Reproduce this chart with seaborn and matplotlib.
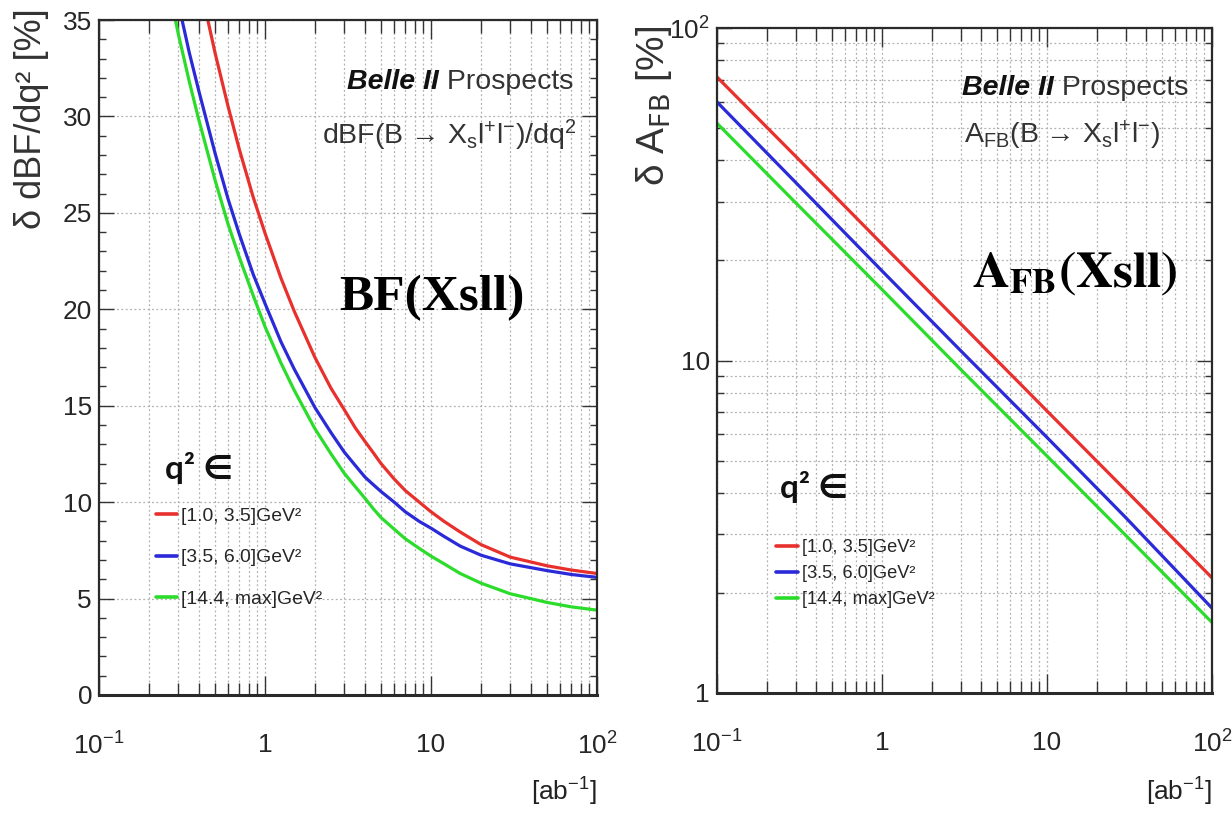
import matplotlib
matplotlib.use("Agg")
import matplotlib.pyplot as plt
import seaborn as sns
import pandas as pd
from matplotlib.lines import Line2D
from matplotlib.ticker import FixedLocator, FixedFormatter, LogLocator, MultipleLocator, NullFormatter
from matplotlib import font_manager

# ---------------- data ----------------
bins = ["[1.0, 3.5]GeV²", "[3.5, 6.0]GeV²", "[14.4, max]GeV²"]
colors = ["#e8302c", "#2a2ad8", "#2bdc2b"]

lumi_bf = [0.2, 0.25, 0.3, 0.35, 0.4, 0.5, 0.6, 0.7, 0.85, 1, 1.25, 1.5, 2, 2.5, 3, 3.5, 4, 4.5, 5, 6, 7,
           8.5, 10, 12, 15, 20, 30, 50, 70, 100]
bf_red = [52.2, 46.8, 42.7, 39.6, 37.1, 33.3, 30.5, 28.3, 25.8, 23.95, 21.6, 19.9, 17.5, 15.9, 14.8, 13.85,
          13.15, 12.55, 12.0, 11.2, 10.6, 10.0, 9.5, 9.0, 8.45, 7.8, 7.15, 6.7, 6.48, 6.3]
bf_blue = [43.8, 39.3, 35.9, 33.3, 31.3, 28.1, 25.7, 23.9, 21.8, 20.3, 18.3, 16.9, 14.9, 13.6, 12.6, 11.9,
           11.3, 10.9, 10.55, 10.0, 9.5, 9.0, 8.65, 8.22, 7.72, 7.25, 6.8, 6.45, 6.25, 6.1]
bf_green = [42.0, 37.6, 34.3, 31.8, 29.8, 26.7, 24.4, 22.7, 20.7, 19.1, 17.2, 15.8, 13.8, 12.5, 11.5, 10.8,
            10.2, 9.65, 9.2, 8.6, 8.1, 7.6, 7.2, 6.8, 6.3, 5.8, 5.25, 4.8, 4.57, 4.4]

lumi_afb = [0.1, 0.3, 1, 3, 10, 30, 100]
afb_red = [71.2, 41.1, 22.4, 12.9, 7.05, 4.07, 2.22]
afb_blue = [59.9, 34.3, 18.6, 10.7, 5.87, 3.37, 1.80]
afb_green = [51.7, 29.8, 16.35, 9.4, 5.16, 2.98, 1.63]

xticks = [0.1, 1, 10, 100]
xticklabels = ["$10^{-1}$", "1", "10", "$10^{2}$"]

# ---------------- style ----------------
sns.set_style("ticks")
names = {f.name for f in font_manager.fontManager.ttflist}
NARROW = "Liberation Sans Narrow" in names
SANS = "Liberation Sans Narrow" if NARROW else "Liberation Sans"
k = 1.0 if NARROW else 0.82
plt.rcParams["font.family"] = [SANS, "DejaVu Sans"]
plt.rcParams["mathtext.fontset"] = "custom"
plt.rcParams["mathtext.rm"] = SANS
plt.rcParams["mathtext.it"] = SANS + ":italic"
plt.rcParams["mathtext.bf"] = SANS + ":bold"

W, H = 1232, 816
fig = plt.figure(figsize=(W / 100, H / 100), dpi=100)


def fx(x):
    return x / W


def fy(y):
    return 1 - y / H


ax1 = fig.add_axes([fx(99), fy(695), (597 - 99) / W, (695 - 20) / H])
ax2 = fig.add_axes([fx(717), fy(693), (1212 - 717) / W, (693 - 28) / H])

df_bf = pd.concat([
    pd.DataFrame({"lumi": lumi_bf, "err": v, "bin": b})
    for v, b in zip([bf_red, bf_blue, bf_green], bins)
])
df_afb = pd.concat([
    pd.DataFrame({"lumi": lumi_afb, "err": v, "bin": b})
    for v, b in zip([afb_red, afb_blue, afb_green], bins)
])
pal = dict(zip(bins, colors))

sns.lineplot(data=df_bf, x="lumi", y="err", hue="bin", palette=pal, ax=ax1,
             linewidth=2.3, legend=False, estimator=None, sort=True)
sns.lineplot(data=df_afb, x="lumi", y="err", hue="bin", palette=pal, ax=ax2,
             linewidth=2.3, legend=False, estimator=None, sort=True)

grid_kw = dict(color="#b0b0b0", linestyle=(0, (1.5, 2.0)), linewidth=0.9)
tick_fs = 23 * k

for ax in (ax1, ax2):
    ax.set_xscale("log")
    ax.set_xlim(0.1, 100)
    ax.xaxis.set_major_locator(FixedLocator(xticks))
    ax.xaxis.set_major_formatter(FixedFormatter(xticklabels))
    ax.xaxis.set_minor_locator(LogLocator(base=10, subs=[2, 3, 4, 5, 6, 7, 8, 9]))
    ax.xaxis.set_minor_formatter(NullFormatter())
    ax.set_xlabel("")
    ax.set_ylabel("")
    for s in ax.spines.values():
        s.set_visible(True)
        s.set_linewidth(1.6)
        s.set_color("#2a2a2a")
    ax.spines["bottom"].set_linewidth(2.2)
    ax.tick_params(axis="both", which="both", direction="in", top=True, right=True,
                   color="#333333", width=1.0)
    ax.tick_params(axis="x", which="major", length=14, pad=27, labelsize=tick_fs)
    ax.tick_params(axis="x", which="minor", length=9)
    ax.tick_params(axis="y", which="major", length=11, pad=5, labelsize=tick_fs)
    ax.tick_params(axis="y", which="minor", length=5)
    ax.grid(True, which="major", axis="both", **grid_kw)
    ax.grid(True, which="minor", axis="x", **grid_kw)
    ax.set_axisbelow(True)

ax1.set_ylim(0, 35)
ax1.yaxis.set_major_locator(MultipleLocator(5))
ax1.yaxis.set_minor_locator(MultipleLocator(1))

ax2.set_yscale("log")
ax2.set_ylim(1, 100)
ax2.yaxis.set_major_locator(FixedLocator([1, 10, 100]))
ax2.yaxis.set_major_formatter(FixedFormatter(["1", "10", "$10^{2}$"]))
ax2.yaxis.set_minor_locator(LogLocator(base=10, subs=[2, 3, 4, 5, 6, 7, 8, 9]))
ax2.yaxis.set_minor_formatter(NullFormatter())
ax2.grid(True, which="minor", axis="y", **grid_kw)

# ---------------- axis titles ----------------
fig.text(fx(32), fy(8), "δ dBF/dq² [%]", rotation=90, ha="center", va="top",
         fontsize=26, family=["Liberation Sans", "DejaVu Sans"], color="#333333")
fig.text(fx(654), fy(26), "δ A$_{\\rm FB}$ [%]", rotation=90, ha="center", va="top",
         fontsize=28, family=["Liberation Sans", "DejaVu Sans"], color="#333333",
         math_fontfamily="dejavusans")
for xr in (597, 1212):
    fig.text(fx(xr), fy(792), "[ab$^{-1}$]", ha="right", va="center",
             fontsize=23 * k, color="#222222")

# ---------------- Belle II labels ----------------
renderer = fig.canvas.get_renderer()


def belle(xr, yc):
    t = fig.text(fx(xr), fy(yc), " Prospects", ha="right", va="center",
                 fontsize=25 * k, color="#333333")
    bb = t.get_window_extent(renderer)
    fig.text(bb.x0 / W, fy(yc), "Belle II", ha="right", va="center",
             fontsize=25 * k, fontweight="bold", fontstyle="italic", color="#111111")


belle(573, 82)
belle(1188, 88)
fig.text(fx(576), fy(135), "dBF(B → X$_{\\rm s}$l$^{+}$l$^{-}$)/dq$^{2}$",
         ha="right", va="center", fontsize=25 * k, color="#333333")
fig.text(fx(1160), fy(135), "A$_{\\rm FB}$(B → X$_{\\rm s}$l$^{+}$l$^{-}$)",
         ha="right", va="center", fontsize=25 * k, color="#333333")

fig.text(fx(432), fy(298), "BF(Xsll)", ha="center", va="center", fontsize=37,
         family="Liberation Serif", fontweight="bold", color="black")
fig.text(fx(1075), fy(274), r"$\mathbf{A_{FB}(Xsll)}$", ha="center", va="center",
         fontsize=37, math_fontfamily="stix", color="black")

# ---------------- legends ----------------
fig.text(fx(165), fy(468), "q² ∈", ha="left", va="center", fontsize=24,
         family=["Lato", "DejaVu Sans"], fontweight="bold", color="#111111")
fig.text(fx(780), fy(487), "q² ∈", ha="left", va="center", fontsize=24,
         family=["Lato", "DejaVu Sans"], fontweight="bold", color="#111111")

handles = [Line2D([], [], color=c, linewidth=2.6) for c in colors]
ax1.legend(handles, bins, loc="upper left", bbox_to_anchor=(fx(156), fy(507)),
           bbox_transform=fig.transFigure, frameon=False, fontsize=17 * k,
           handlelength=1.1, handletextpad=0.2, labelspacing=1.25,
           borderpad=0, borderaxespad=0)
ax2.legend(handles, bins, loc="upper left", bbox_to_anchor=(fx(776), fy(539)),
           bbox_transform=fig.transFigure, frameon=False, fontsize=16 * k,
           handlelength=1.2, handletextpad=0.2, labelspacing=0.5,
           borderpad=0, borderaxespad=0)

fig.savefig("out.png", dpi=100)
